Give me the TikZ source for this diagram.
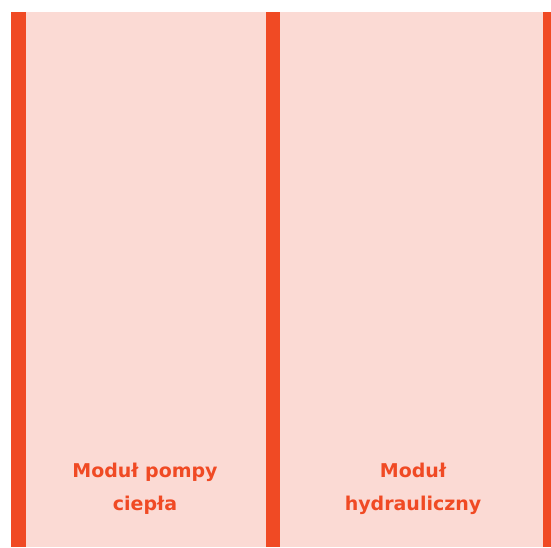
\documentclass[tikz,border=0pt]{standalone}
\usepackage{fontspec}
\setmainfont{DejaVu Sans}
\definecolor{pinkbg}{HTML}{FBDAD4}
\definecolor{redbar}{HTML}{F04A24}
\begin{document}
\begin{tikzpicture}[x=1pt,y=-1pt,
  panel/.style={fill=pinkbg,draw=none},
  bar/.style={fill=redbar,draw=none},
  lbl/.style={text=redbar,font=\bfseries\fontsize{19}{33}\selectfont,align=center,anchor=base,inner sep=0pt}]
\useasboundingbox[fill=white] (0,0) rectangle (551,547);
\fill[panel] (26,12) rectangle (266,547);
\fill[panel] (280,12) rectangle (543,547);
\fill[bar] (11,12) rectangle (26,547);
\fill[bar] (266,12) rectangle (280,547);
\fill[bar] (543,12) rectangle (551,547);
\node[lbl] (l1) at (145,510) {Moduł pompy\\ciepła};
\node[lbl] (l2) at (413,510) {Moduł\\hydrauliczny};
\end{tikzpicture}
\end{document}
